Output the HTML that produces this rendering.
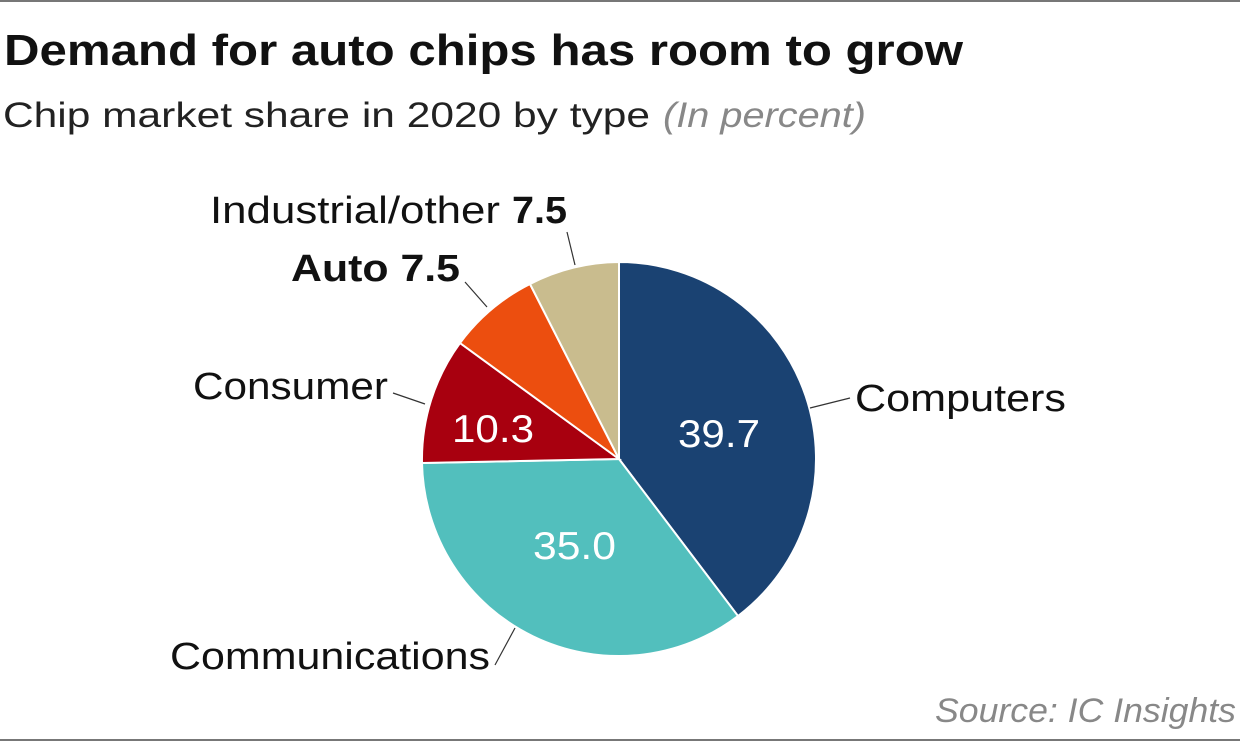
<!DOCTYPE html>
<html><head><meta charset="utf-8"><style>
body{margin:0;background:#fff;}
svg{display:block;font-family:"Liberation Sans",sans-serif;}
</style></head><body>
<svg width="1240" height="742" viewBox="0 0 1240 742" xmlns="http://www.w3.org/2000/svg">
<rect width="1240" height="742" fill="#fff"/>
<line x1="0" y1="1" x2="1240" y2="1" stroke="#777" stroke-width="2"/>
<line x1="0" y1="740" x2="1240" y2="740" stroke="#777" stroke-width="2"/>
<text x="4" y="65" font-size="44" font-weight="bold" fill="#111" textLength="959" lengthAdjust="spacingAndGlyphs">Demand for auto chips has room to grow</text>
<text x="3" y="127" font-size="35" fill="#222" textLength="647" lengthAdjust="spacingAndGlyphs">Chip market share in 2020 by type</text>
<text x="663" y="127" font-size="35" fill="#888" font-style="italic" textLength="203" lengthAdjust="spacingAndGlyphs">(In percent)</text>
<g stroke="#fff" stroke-width="2">
<path d="M619,459 L619,262 A197,197 0 0 1 738,616 Z" fill="#1a4272"/>
<path d="M619,459 L738,616 A197,197 0 0 1 422,463 Z" fill="#52bfbd"/>
<path d="M619,459 L422,463 A197,197 0 0 1 460,343 Z" fill="#a8000f"/>
<path d="M619,459 L460,343 A197,197 0 0 1 530,284 Z" fill="#ec4e0f"/>
<path d="M619,459 L530,284 A197,197 0 0 1 619,262 Z" fill="#c9bc8e"/>
</g>
<g font-size="39" fill="#fff">
<text x="678" y="447" textLength="82" lengthAdjust="spacingAndGlyphs">39.7</text>
<text x="533" y="559" textLength="83" lengthAdjust="spacingAndGlyphs">35.0</text>
<text x="452" y="442" textLength="82" lengthAdjust="spacingAndGlyphs">10.3</text>
</g>
<g stroke="#333" stroke-width="1.2" fill="none">
<line x1="810" y1="408" x2="850" y2="398"/>
<line x1="515" y1="628" x2="495" y2="665"/>
<line x1="425" y1="404" x2="393" y2="393"/>
<line x1="487" y1="307" x2="465" y2="282"/>
<line x1="575" y1="265" x2="567" y2="232"/>
</g>
<g font-size="38" fill="#111">
<text x="855" y="411" textLength="211" lengthAdjust="spacingAndGlyphs">Computers</text>
<text x="170" y="669" textLength="320" lengthAdjust="spacingAndGlyphs">Communications</text>
<text x="193" y="399" textLength="195" lengthAdjust="spacingAndGlyphs">Consumer</text>
<text x="291" y="281" font-weight="bold" textLength="169" lengthAdjust="spacingAndGlyphs">Auto 7.5</text>
<text x="210" y="223" textLength="290" lengthAdjust="spacingAndGlyphs">Industrial/other</text>
<text x="512" y="223" font-weight="bold" textLength="55" lengthAdjust="spacingAndGlyphs">7.5</text>
</g>
<text x="935" y="722" font-size="34" fill="#888" font-style="italic" textLength="301" lengthAdjust="spacingAndGlyphs">Source: IC Insights</text>
</svg>
</body></html>
